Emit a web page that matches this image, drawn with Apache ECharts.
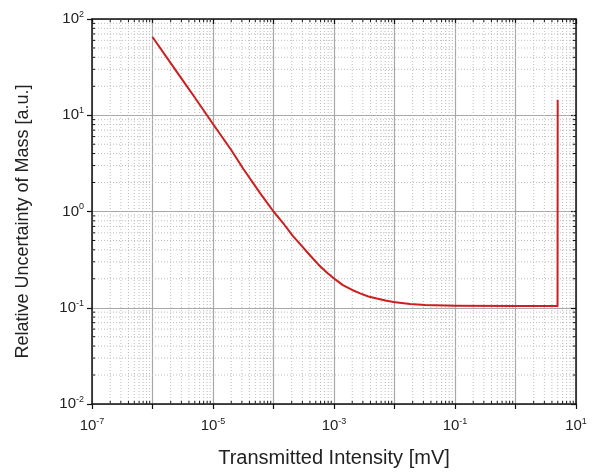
<!DOCTYPE html>
<html><head><meta charset="utf-8">
<script src="https://cdn.jsdelivr.net/npm/echarts@6/dist/echarts.min.js"></script>
<style>html,body{margin:0;padding:0;background:#fff}#c{width:595px;height:473px}</style>
</head><body><div id="c"></div>
<script>
// Data
const intensity = [1e-6, 2e-6, 3e-6, 5e-6, 1e-5, 2e-5, 3.2e-5, 6e-5, 1e-4, 1.5e-4, 2.1e-4, 3e-4, 4e-4, 5.5e-4, 7.6e-4, 1.05e-3, 1.4e-3, 2e-3, 2.7e-3, 3.7e-3, 5.1e-3, 7.1e-3, 9.6e-3, 1.8e-2, 3.2e-2, 0.1, 1, 4.95, 4.98];
const uncertainty = [65, 34.8, 24.2, 15.3, 8.1, 4.35, 2.75, 1.55, 1.0, 0.733, 0.556, 0.431, 0.351, 0.282, 0.232, 0.197, 0.172, 0.153, 0.141, 0.131, 0.1245, 0.119, 0.115, 0.1096, 0.107, 0.105, 0.104, 0.104, 14.5];
const xExponents = [-7, -6, -5, -4, -3, -2, -1, 0, 1];
const yExponents = [-2, -1, 0, 1, 2];
const xTickLabels = ['10^-7', '', '10^-5', '', '10^-3', '', '10^-1', '', '10^1'];
const yTickLabels = ['10^-2', '10^-1', '10^0', '10^1', '10^2'];
const xMin = 1e-7, xMax = 10, yMin = 1e-2, yMax = 100;

function minorValues(exps) {
  const out = [];
  for (let i = 0; i < exps.length - 1; i++) {
    for (let m = 2; m <= 9; m++) out.push(m * Math.pow(10, exps[i]));
  }
  return out;
}
const xMinor = minorValues(xExponents);
const yMinor = minorValues(yExponents);

function fmt(labels, exps) {
  return function (v) {
    const e = Math.round(Math.log10(v));
    const idx = exps.indexOf(e);
    if (idx < 0) return '';
    const s = labels[idx];
    if (!s) return '';
    const parts = s.split('^');
    return '{b|' + parts[0] + '}{s|' + parts[1] + '}';
  };
}
const rich = {
  b: { fontSize: 15, fontFamily: 'Liberation Sans, Arial', color: '#222' },
  s: { fontSize: 9, fontFamily: 'Liberation Sans, Arial', color: '#222', padding: [0, 0, 9, 0] }
};

const chart = echarts.init(document.getElementById('c'), null, { renderer: 'canvas' });
const lineCol = '#111';
const minorStyle = { stroke: '#bdbdbd', lineWidth: 1, lineDash: [1, 2] };
const tickStyle = { stroke: lineCol, lineWidth: 1 };

chart.setOption({
  animation: false,
  backgroundColor: '#fff',
  grid: { left: 92, right: 19, top: 19, bottom: 65, containLabel: false },
  xAxis: [{
    type: 'log', logBase: 10, min: xMin, max: xMax, position: 'bottom',
    name: 'Transmitted Intensity [mV]', nameLocation: 'middle', nameGap: 44,
    nameTextStyle: { fontSize: 20, fontFamily: 'Liberation Sans, Arial', color: '#222' },
    axisLine: { show: true, onZero: false, lineStyle: { color: lineCol, width: 1.5 } },
    axisTick: { show: true, inside: false, length: 5, lineStyle: { color: lineCol, width: 1.2 } },
    axisLabel: { show: true, margin: 13, formatter: fmt(xTickLabels, xExponents), rich: rich, showMinLabel: true, showMaxLabel: true },
    splitLine: { show: true, lineStyle: { color: '#a8a8a8', width: 1.2 } },
    minorTick: { show: false }, minorSplitLine: { show: false }
  }, {
    type: 'log', logBase: 10, min: xMin, max: xMax, position: 'top',
    axisLine: { show: true, onZero: false, lineStyle: { color: lineCol, width: 1.5 } },
    axisTick: { show: true, inside: true, length: 5, lineStyle: { color: lineCol, width: 1.2 } },
    axisLabel: { show: false }, splitLine: { show: false }
  }],
  yAxis: [{
    type: 'log', logBase: 10, min: yMin, max: yMax, position: 'left',
    name: 'Relative Uncertainty of Mass [a.u.]', nameLocation: 'middle', nameGap: 60, nameRotate: 90,
    nameTextStyle: { fontSize: 18, fontFamily: 'Liberation Sans, Arial', color: '#222', padding: [0, 20, 0, 0] },
    axisLine: { show: true, onZero: false, lineStyle: { color: lineCol, width: 1.5 } },
    axisTick: { show: true, inside: false, length: 5, lineStyle: { color: lineCol, width: 1.2 } },
    axisLabel: { show: true, margin: 8, formatter: fmt(yTickLabels, yExponents), rich: rich },
    splitLine: { show: true, lineStyle: { color: '#a8a8a8', width: 1.2 } }
  }, {
    type: 'log', logBase: 10, min: yMin, max: yMax, position: 'right',
    axisLine: { show: true, onZero: false, lineStyle: { color: lineCol, width: 1.5 } },
    axisTick: { show: true, inside: true, length: 5, lineStyle: { color: lineCol, width: 1.2 } },
    axisLabel: { show: false }, splitLine: { show: false }
  }],
  series: [{
    type: 'custom', silent: true, z: 1,
    data: xMinor.map(v => [v, yMin]),
    encode: { x: 0, y: 1 },
    renderItem: function (params, api) {
      const v = api.value(0);
      const b = api.coord([v, yMin]);
      const t = api.coord([v, yMax]);
      return { type: 'group', children: [
        { type: 'line', shape: { x1: b[0], y1: b[1], x2: t[0], y2: t[1] }, style: minorStyle },
        { type: 'line', shape: { x1: b[0], y1: b[1], x2: b[0], y2: b[1] - 3 }, style: tickStyle },
        { type: 'line', shape: { x1: t[0], y1: t[1], x2: t[0], y2: t[1] + 3 }, style: tickStyle }
      ] };
    }
  }, {
    type: 'custom', silent: true, z: 1,
    data: yMinor.map(v => [xMin, v]),
    encode: { x: 0, y: 1 },
    renderItem: function (params, api) {
      const v = api.value(1);
      const l = api.coord([xMin, v]);
      const r = api.coord([xMax, v]);
      return { type: 'group', children: [
        { type: 'line', shape: { x1: l[0], y1: l[1], x2: r[0], y2: r[1] }, style: minorStyle },
        { type: 'line', shape: { x1: l[0], y1: l[1], x2: l[0] + 3, y2: l[1] }, style: tickStyle },
        { type: 'line', shape: { x1: r[0], y1: r[1], x2: r[0] - 3, y2: r[1] }, style: tickStyle }
      ] };
    }
  }, {
    type: 'line', z: 5,
    data: intensity.map((x, i) => [x, uncertainty[i]]),
    showSymbol: false, symbol: 'none', smooth: false,
    lineStyle: { color: '#cc1f1f', width: 2, join: 'round' }
  }]
});
</script></body></html>
